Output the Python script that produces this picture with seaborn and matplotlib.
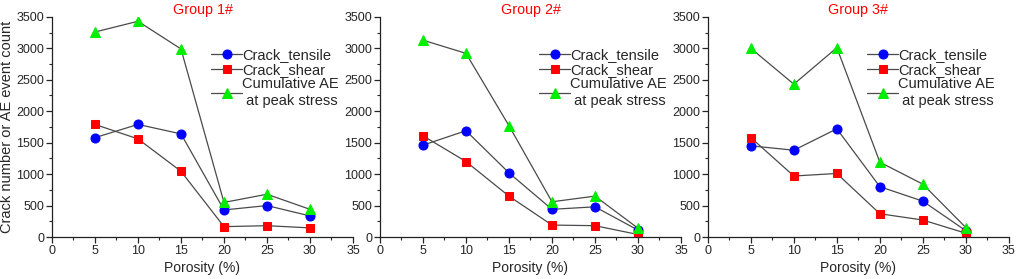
import numpy as np
import matplotlib
matplotlib.use("Agg")
import matplotlib.pyplot as plt
import seaborn as sns
from matplotlib.ticker import MultipleLocator

porosity = [5, 10, 15, 20, 25, 30]
groups = ["Group 1#", "Group 2#", "Group 3#"]

# crack counts / AE counts per group
tensile = [
  [1580, 1790, 1640, 430, 500, 335],
  [1460, 1690, 1020, 440, 480, 110],
  [1450, 1380, 1720, 800, 570, 100],
]
shear = [
  [1790, 1560, 1045, 165, 180, 145],
  [1610, 1200, 650, 190, 180, 40],
  [1580, 970, 1010, 370, 270, 60],
]
cum_ae = [
  [3260, 3430, 2990, 550, 680, 440],
  [3130, 2920, 1770, 560, 650, 140],
  [3000, 2430, 3010, 1190, 840, 150],
]

sns.set_style("ticks")
plt.rcParams['font.family'] = ['Liberation Sans', 'DejaVu Sans']

fig = plt.figure(figsize=(10.17, 2.79), dpi=100)
lefts = [0.0511, 0.3736, 0.696]

line_c = '#4a4a4a'
series = [
  ("Crack_tensile", tensile, 'o', 'blue'),
  ("Crack_shear", shear, 's', 'red'),
  ("Cumulative AE\n at peak stress", cum_ae, '^', '#00ee00'),
]

for i in range(3):
  ax = fig.add_axes([lefts[i], 0.1505, 0.296, 0.789])
  for label, vals, mk, col in series:
    sns.lineplot(
      x=porosity, y=vals[i],
      color=line_c, linewidth=0.9,
      marker=mk, markersize=6.5 if mk != 's' else 5.8,
      markerfacecolor=col, markeredgecolor=col,
      label=label, ax=ax,
    )
  ax.set_xlim(0, 35)
  ax.set_ylim(0, 3500)
  ax.xaxis.set_major_locator(MultipleLocator(5))
  ax.xaxis.set_minor_locator(MultipleLocator(2.5))
  ax.yaxis.set_major_locator(MultipleLocator(500))
  ax.yaxis.set_minor_locator(MultipleLocator(250))
  ax.tick_params(which='major', length=4, width=0.9, direction='out', labelsize=9, pad=1.5)
  ax.tick_params(which='minor', length=2.2, width=0.8, direction='out')
  for s in ['top', 'right']:
    ax.spines[s].set_visible(False)
  for s in ['left', 'bottom']:
    ax.spines[s].set_linewidth(0.9)
    ax.spines[s].set_color('#222222')
  ax.set_xlabel("Porosity (%)", fontsize=10, labelpad=3)
  if i == 0:
    ax.set_ylabel("Crack number or AE event count", fontsize=10.5, labelpad=2)
  else:
    ax.set_ylabel("")
  ax.set_title(groups[i], color='red', fontsize=10.3, pad=2)
  ax.legend(
    loc='upper left', bbox_to_anchor=(0.51, 0.885),
    frameon=False, fontsize=10.5, handlelength=2.1,
    handletextpad=0.0, labelspacing=0.05, borderaxespad=0,
  )

plt.savefig('out.png', dpi=100)
